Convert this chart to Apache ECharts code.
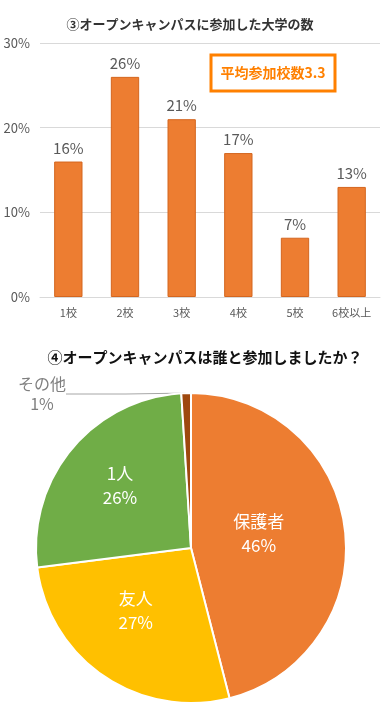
<!DOCTYPE html>
<html><head><meta charset="utf-8">
<script src="https://cdn.jsdelivr.net/npm/echarts@6/dist/echarts.min.js"></script>
<style>html,body{margin:0;padding:0;background:#fff}#c{width:392px;height:712px}</style>
</head><body><div id="c"></div>
<script>
const barCategories = ['1校','2校','3校','4校','5校','6校以上'];
const barValues = [16, 26, 21, 17, 7, 13];
const yTicks = [0, 10, 20, 30];
const pieNames = ['保護者','友人','1人','その他'];
const pieValues = [46, 27, 26, 1];
const pieColors = ['#ED7D31','#FFC000','#70AD47','#9E480E'];
const font = '"Noto Sans CJK JP", "Noto Sans", sans-serif';

const chart = echarts.init(document.getElementById('c'));
chart.setOption({
  animation: false,
  textStyle: {fontFamily: font},
  title: [
    {text: '③オープンキャンパスに参加した大学の数', left: 185, top: 13, textAlign: 'center',
     textStyle: {fontSize: 13, fontWeight: 'bold', color: '#333', fontFamily: font}},
    {text: '④オープンキャンパスは誰と参加しましたか？', left: 200, top: 345, textAlign: 'center',
     textStyle: {fontSize: 15, fontWeight: 'bold', color: '#111', fontFamily: font}}
  ],
  grid: {left: 40, right: 12, top: 43, height: 254},
  xAxis: {type: 'category', data: barCategories,
    axisLine: {lineStyle: {color: '#d9d9d9'}}, axisTick: {show: false},
    axisLabel: {color: '#595959', fontSize: 11, margin: 10}},
  yAxis: {type: 'value', min: 0, max: 30, interval: 10,
    axisLabel: {formatter: v => yTicks.includes(v) ? v + '%' : '', color: '#595959', fontSize: 13, margin: 10,
      align: 'right'},
    splitLine: {lineStyle: {color: '#d9d9d9'}}},
  graphic: [
    {type: 'rect', shape: {x: 211, y: 55, width: 124, height: 36},
     style: {fill: '#fff', stroke: '#FF8000', lineWidth: 3}, z: 10},
    {type: 'text', x: 273, y: 73, z: 11,
     style: {text: '平均参加校数3.3', fill: '#FF8000', fontSize: 14, fontWeight: 'bold',
       fontFamily: font, align: 'center', verticalAlign: 'middle'}}
  ],
  series: [
    {type: 'bar', data: barValues, barWidth: '50%',
     itemStyle: {color: '#ED7D31', borderColor: '#D4661F', borderWidth: 1},
     label: {show: true, position: 'top', formatter: '{c}%', color: '#595959', fontSize: 15, distance: 6}},
    {type: 'pie', center: [191, 548], radius: 155, startAngle: 90, clockwise: true,
     data: pieNames.map((n, i) => ({name: n, value: pieValues[i], itemStyle: {color: pieColors[i]},
       label: i === 3 ? {position: 'outside', color: '#7f7f7f', fontSize: 16, lineHeight: 20, align: 'center'} : undefined,
       labelLine: i === 3 ? {show: true, length: 0, length2: 60, lineStyle: {color: '#a6a6a6', width: 1}} : undefined})),
     itemStyle: {borderColor: '#fff', borderWidth: 2},
     label: {show: true, position: 'inside', formatter: '{b}\n{c}%', color: '#fff', fontSize: 17, lineHeight: 24},
     labelLayout: function (p) {
       if (p.dataIndex === 3) return {x: 42, y: 394, align: 'center', verticalAlign: 'middle'};
       if (p.dataIndex === 0) return {dx: -12, dy: -4};
       if (p.dataIndex === 1) return {dx: -10, dy: -4};
       if (p.dataIndex === 2) return {dx: -9, dy: -11};
       return {};
     }}
  ]
});
</script></body></html>
